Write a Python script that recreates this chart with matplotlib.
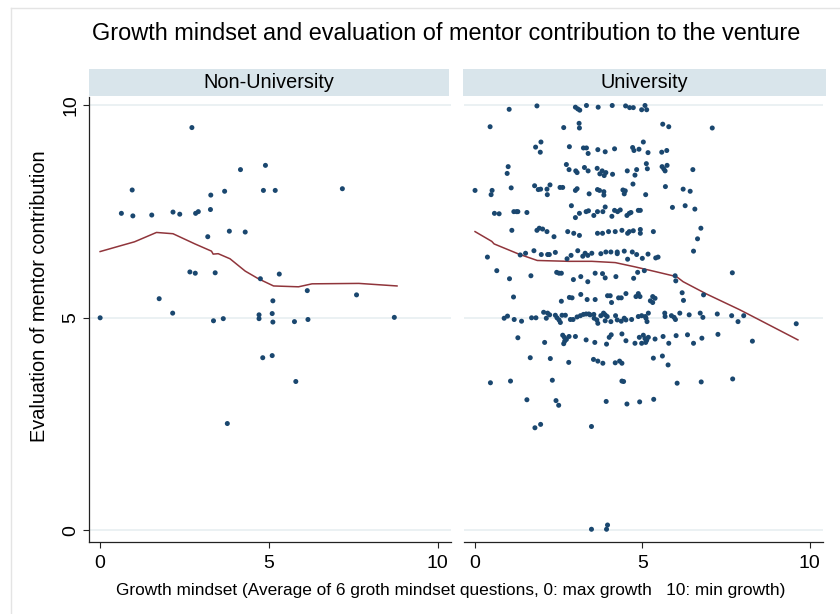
import matplotlib
matplotlib.use("Agg")
import matplotlib.pyplot as plt
from matplotlib.lines import Line2D
from matplotlib.patches import Rectangle

plt.rcParams['font.family'] = ['Liberation Sans', 'DejaVu Sans']

# ---------------- data ----------------
title = "Growth mindset and evaluation of mentor contribution to the venture"
panel_names = ["Non-University", "University"]
y_label = "Evaluation of mentor contribution"
x_label = "Growth mindset (Average of 6 groth mindset questions, 0: max growth   10: min growth)"
x_ticks = [0, 5, 10]
y_ticks = [0, 5, 10]

nonuni_x = [0.00, 0.63, 0.95, 0.97, 1.53, 1.75, 2.16, 2.36, 2.15, 2.72, 2.66, 2.82, 2.83, 2.91,
            3.19, 3.28, 3.27, 3.36, 3.41, 3.65, 3.69, 3.77, 3.83, 4.16, 4.30, 4.71, 4.71, 4.75,
            4.82, 4.84, 4.90, 5.10, 5.10, 5.12, 5.12, 5.19, 5.31, 5.76, 5.80, 6.14, 6.16, 7.18,
            7.60, 8.72]
nonuni_y = [5.00, 7.46, 8.01, 7.40, 7.42, 5.45, 7.49, 7.44, 5.11, 9.48, 6.08, 6.05, 7.46, 7.50,
            6.91, 7.89, 7.55, 4.93, 6.06, 4.98, 7.98, 2.51, 7.04, 8.49, 7.02, 5.07, 4.98, 5.92,
            4.06, 8.00, 8.59, 4.11, 5.10, 5.40, 4.90, 8.00, 6.03, 4.91, 3.50, 5.64, 4.96, 8.04,
            5.54, 5.01]

uni_x = [
    # top area, left
    1.02, 1.85, 3.00, 3.07, 3.13, 3.33, 0.45, 2.65, 3.11, 3.12,
    1.97, 1.81, 1.95, 2.82, 3.24, 3.33, 3.38,
    0.99, 0.96, 2.73, 2.81, 3.01, 3.05, 3.27, 3.38,
    0.00, 0.51, 0.48, 1.08, 1.78, 1.89, 1.96, 2.15, 2.24, 2.16, 2.54, 2.62, 3.00, 3.05, 3.41,
    0.58, 0.72, 1.16, 1.24, 1.28, 1.55, 2.88, 3.12, 3.00, 3.32, 3.39,
    1.10, 1.85, 1.92, 2.02, 2.15, 2.36, 2.77, 2.95, 3.12,
    # top area, right
    3.68, 4.10, 4.50, 4.62, 4.73, 5.08, 4.98, 5.13, 5.61, 5.79, 7.09, 5.03,
    3.67, 3.89, 4.17, 4.71, 4.75, 4.90, 5.17, 5.58, 5.73,
    3.65, 3.73, 3.80, 3.86, 3.91, 4.11, 4.55, 4.83, 4.78, 5.12, 5.15, 5.59, 5.64, 5.68, 5.74, 6.51,
    3.66, 3.72, 3.85, 3.85, 4.42, 4.49, 4.46, 4.72, 5.10, 5.69, 6.22, 6.43,
    3.55, 3.66, 3.82, 3.89, 4.09, 4.17, 4.26, 4.34, 4.54, 4.61, 4.66, 4.88, 4.94, 5.90, 6.28, 6.57,
    3.66, 3.81, 3.99, 4.19, 4.39, 4.56, 4.61, 4.73, 4.94, 4.94, 5.33, 6.75, 6.65,
    # lower area, left
    0.37, 1.35, 1.51, 1.76, 1.98, 2.17, 2.22, 2.40, 2.75, 2.87, 3.07, 3.22, 3.29, 3.37,
    0.65, 1.03, 1.67, 2.44, 2.51, 2.58, 2.94, 3.16, 3.37,
    1.15, 2.58, 2.82, 2.90, 3.16, 3.35,
    0.87, 0.97, 1.17, 1.39, 1.69, 1.82, 2.05, 2.17, 2.23, 2.13, 2.40, 2.45, 2.51, 2.55, 2.60,
    2.70, 2.85, 2.93, 3.05, 3.15, 3.24, 3.32, 3.40,
    1.28, 2.08, 2.62, 2.67, 2.73, 2.81, 2.65, 2.68, 3.00, 3.32,
    1.65, 2.25, 2.80, 0.46, 1.06, 2.31, 1.55, 2.42, 2.50,
    # lower area, right
    3.49, 3.76, 3.91, 4.06, 4.25, 4.25, 4.46, 4.70, 4.83, 5.17, 5.40, 5.47, 5.00, 4.56, 6.53,
    3.59, 3.81, 3.89, 4.21, 4.74, 4.86, 5.06, 5.98, 6.00,
    3.59, 3.96, 4.04, 4.08, 4.29, 4.37, 4.51, 4.81, 4.88, 4.93, 5.24, 5.31, 5.38, 5.31, 6.19,
    6.23, 6.83,
    3.44, 3.55, 3.56, 3.64, 3.67, 3.76, 3.84, 3.89, 3.89, 3.95, 4.06, 4.20, 4.25, 4.37, 4.46,
    4.51, 4.68, 4.88, 4.98, 5.11, 5.18, 5.14, 5.09, 5.67, 5.68, 5.87, 5.95, 5.99, 6.12, 6.40,
    6.73, 6.81,
    3.58, 3.93, 4.01, 4.07, 4.39, 4.51, 4.78, 4.91, 5.03, 5.08, 5.13, 5.18, 4.98, 5.10, 5.38,
    5.62, 5.79, 6.01, 6.35, 6.53, 6.78,
    3.54, 3.67, 3.82, 4.19, 4.32, 4.39, 5.33, 5.60, 5.77,
    4.39, 4.44, 6.04, 6.76, 3.92, 4.54, 4.92, 5.34,
    # outliers
    7.69, 7.24, 7.67, 7.86, 8.03, 8.29, 9.60, 7.70, 7.26,
    1.79, 1.96, 3.48, 3.48, 3.93, 3.96,
]
uni_y = [
    9.91, 9.99, 9.96, 9.92, 9.89, 10.0, 9.50, 9.48, 9.58, 9.47,
    9.14, 9.02, 8.90, 9.03, 9.00, 9.00, 8.87,
    8.56, 8.40, 8.61, 8.49, 8.46, 8.42, 8.54, 8.46,
    8.00, 8.00, 7.90, 8.06, 8.11, 8.02, 8.03, 8.03, 8.13, 7.90, 8.07, 8.07, 8.00, 8.04, 7.92,
    7.46, 7.45, 7.50, 7.50, 7.50, 7.48, 7.64, 7.46, 7.36, 7.50, 7.52,
    7.06, 7.06, 7.11, 7.09, 7.03, 6.91, 7.03, 6.99, 6.94,
    9.96, 10.0, 9.99, 9.95, 9.95, 10.0, 9.90, 9.90, 9.56, 9.50, 9.47, 9.14,
    8.96, 8.91, 8.98, 9.01, 8.94, 8.97, 8.89, 8.90, 8.94,
    8.52, 8.39, 8.46, 8.35, 8.42, 8.38, 8.46, 8.49, 8.36, 8.63, 8.51, 8.56, 8.51, 8.46, 8.59, 8.49,
    8.02, 8.00, 7.97, 7.89, 8.01, 7.99, 7.92, 8.15, 7.90, 8.09, 8.03, 7.98,
    7.41, 7.50, 7.50, 7.61, 7.39, 7.53, 7.50, 7.54, 7.41, 7.46, 7.48, 7.53, 7.53, 7.60, 7.64, 7.56,
    6.99, 6.99, 7.03, 7.03, 7.06, 6.99, 7.03, 7.05, 7.08, 6.99, 7.03, 7.11, 6.86,
    6.43, 6.48, 6.52, 6.58, 6.49, 6.49, 6.49, 6.54, 6.39, 6.47, 6.58, 6.45, 6.52, 6.47,
    6.11, 5.92, 5.99, 6.07, 6.05, 6.05, 5.90, 5.97, 5.85,
    5.49, 5.39, 5.48, 5.47, 5.55, 5.43,
    4.99, 5.04, 4.96, 4.92, 5.00, 5.00, 5.13, 5.11, 5.07, 4.99, 5.06, 5.00, 4.95, 4.89, 5.06,
    5.06, 4.96, 4.96, 5.02, 5.05, 5.08, 5.09, 5.09,
    4.53, 4.42, 4.59, 4.54, 4.49, 4.56, 4.39, 4.45, 4.56, 4.48,
    4.06, 4.04, 3.95, 3.47, 3.51, 3.53, 3.07, 3.05, 2.94,
    6.52, 6.51, 6.55, 6.55, 6.55, 6.51, 6.57, 6.55, 6.49, 6.50, 6.41, 6.43, 6.40, 6.38, 6.57,
    6.05, 6.04, 5.94, 5.97, 5.93, 6.07, 6.11, 5.99, 5.87,
    5.43, 5.52, 5.52, 5.36, 5.47, 5.47, 5.57, 5.50, 5.57, 5.50, 5.40, 5.50, 5.46, 5.36, 5.59,
    5.41, 5.54,
    5.07, 5.08, 4.99, 4.95, 4.87, 5.05, 5.11, 5.07, 4.93, 5.03, 4.91, 5.05, 4.95, 4.92, 4.99,
    4.95, 4.96, 5.03, 5.05, 4.99, 5.11, 4.91, 5.03, 5.11, 5.03, 5.05, 5.01, 4.96, 5.11, 5.07,
    5.11, 5.01,
    4.42, 4.38, 4.54, 4.60, 4.62, 4.46, 4.40, 4.54, 4.59, 4.51, 4.47, 4.54, 4.40, 4.42, 4.50,
    4.56, 4.40, 4.58, 4.60, 4.40, 4.52,
    4.02, 3.98, 3.93, 3.94, 3.98, 3.93, 4.05, 4.10, 3.89,
    3.51, 3.50, 3.46, 3.49, 3.03, 2.97, 3.02, 3.08,
    6.06, 5.09, 5.05, 4.91, 5.05, 4.45, 4.86, 3.56, 4.61,
    2.41, 2.49, 2.44, 0.02, 0.02, 0.12,
]

# lowess smooth lines
nonuni_fit_x = [0.00, 0.53, 1.02, 1.67, 2.16, 2.81, 3.30, 3.35, 3.50, 3.85, 4.30, 4.69, 5.14, 5.88, 6.28, 7.67, 8.80]
nonuni_fit_y = [6.56, 6.68, 6.79, 7.01, 6.98, 6.74, 6.57, 6.50, 6.51, 6.39, 6.10, 5.92, 5.75, 5.73, 5.80, 5.81, 5.75]
uni_fit_x = [0.00, 0.50, 0.57, 1.31, 1.86, 2.80, 3.49, 4.19, 4.78, 5.38, 6.02, 6.22, 6.92, 7.91, 8.50, 9.65]
uni_fit_y = [7.03, 6.80, 6.74, 6.50, 6.35, 6.33, 6.33, 6.30, 6.20, 6.09, 5.97, 5.85, 5.56, 5.19, 4.95, 4.48]

# ---------------- style ----------------
W, H = 840, 614
NAVY = '#1a476f'
MAROON = '#90353b'
STRIP = '#d9e5eb'
GRID = '#e9f0f2'


def fx(px):
    return px / W


def fy(py):
    return 1 - py / H


fig = plt.figure(figsize=(W / 100, H / 100), dpi=100)
fig.patch.set_facecolor('white')

# outer light frame
fig.add_artist(Line2D([fx(10.5), fx(10.5)], [fy(8.3), 0], color='#e4e4e4', lw=1.0))
fig.add_artist(Line2D([fx(10.5), 1], [fy(8.3), fy(8.3)], color='#e4e4e4', lw=1.0))

top, bot = 97, 542
panels = [(89, 451), (464, 823)]
strips = [(89, 449), (463, 826)]
datasets = [(nonuni_x, nonuni_y, nonuni_fit_x, nonuni_fit_y),
            (uni_x, uni_y, uni_fit_x, uni_fit_y)]

for i, ((l, r), (sl, sr), (px_, py_, lx, ly)) in enumerate(zip(panels, strips, datasets)):
    ax = fig.add_axes([fx(l), fy(bot), (r - l) / W, (bot - top) / H])
    ax.set_xlim(-0.33, 10.4)
    ax.set_ylim(-0.28, 10.2)
    for g in y_ticks:
        ax.axhline(g, color=GRID, lw=1.3, zorder=0)
    ax.plot(lx, ly, color=MAROON, lw=1.1, zorder=2)
    ax.scatter(px_, py_, s=13, color=NAVY, edgecolors='none', zorder=3)
    for s in ['top', 'right']:
        ax.spines[s].set_visible(False)
    ax.spines['bottom'].set_color('#222222')
    ax.spines['bottom'].set_linewidth(0.9)
    ax.set_xticks(x_ticks)
    ax.set_xticklabels([str(t) for t in x_ticks], fontsize=14)
    ax.tick_params(axis='x', direction='out', length=4.5, width=0.8, color='#222222', pad=5)
    if i == 0:
        ax.spines['left'].set_color('#222222')
        ax.spines['left'].set_linewidth(0.9)
        ax.set_yticks(y_ticks)
        ax.set_yticklabels([str(t) for t in y_ticks], fontsize=14, rotation=90, va='center')
        ax.tick_params(axis='y', direction='out', length=4.5, width=0.8, color='#222222', pad=2.5)
    else:
        ax.spines['left'].set_visible(False)
        ax.set_yticks([])
    # strip
    fig.add_artist(Rectangle((fx(sl), fy(96)), (sr - sl) / W, 27 / H,
                             transform=fig.transFigure, facecolor=STRIP, edgecolor='none'))
    fig.text(fx((sl + sr) / 2), fy(82), panel_names[i], ha='center', va='center', fontsize=14.3)

fig.text(fx(446), fy(33), title, ha='center', va='center', fontsize=16.9)
fig.text(fx(40), fy(296), y_label, ha='center', va='center', rotation=90, fontsize=14.3)
fig.text(fx(451), fy(590), x_label, ha='center', va='center', fontsize=12.4)

fig.savefig('out.png', dpi=100)
